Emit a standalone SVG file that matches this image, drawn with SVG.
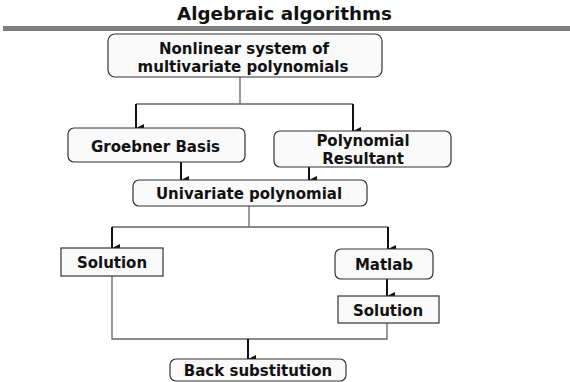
<svg xmlns="http://www.w3.org/2000/svg" width="570" height="382" viewBox="0 0 570 382">
  <defs>
    <marker id="ah" viewBox="0 0 8 8" refX="4" refY="8" markerWidth="8" markerHeight="8" markerUnits="userSpaceOnUse" orient="auto-start-reverse">
      <path d="M0,0 L4,8 L8,0 Z" fill="#111"/>
    </marker>
    <style>
      .box { fill: #fafafa; stroke: #333; stroke-width: 1.2; }
      .lbl { font-family: "DejaVu Sans", Verdana, sans-serif; font-weight: bold; font-size: 15px; fill: #111; text-anchor: middle; }
      .title { font-family: "DejaVu Sans", Verdana, sans-serif; font-weight: bold; font-size: 18.3px; fill: #111; text-anchor: middle; }
      .wire { fill: none; stroke: #666; stroke-width: 1.3; }
      .arrow { fill: none; stroke: #111; stroke-width: 2; }
    </style>
  </defs>
  <rect width="570" height="382" fill="#ffffff"/>

  <!-- heading -->
  <text class="title" x="284.5" y="20">Algebraic algorithms</text>
  <rect x="3" y="26" width="567" height="5" fill="#7f7f7f"/>

  <!-- connectors -->
  <g id="connectors">
    <path class="wire" d="M240,77 V104 M136,104 H353"/>
    <path class="arrow" d="M136,104 V128" marker-end="url(#ah)"/>
    <path class="arrow" d="M353,104 V131" marker-end="url(#ah)"/>
    <path class="arrow" d="M181,162 V180" marker-end="url(#ah)"/>
    <path class="arrow" d="M309,167 V180" marker-end="url(#ah)"/>
    <path class="wire" d="M249,206 V227 M112,227 H388"/>
    <path class="arrow" d="M112,227 V248" marker-end="url(#ah)"/>
    <path class="arrow" d="M388,227 V249" marker-end="url(#ah)"/>
    <path class="arrow" d="M387,279 V296" marker-end="url(#ah)"/>
    <path class="wire" d="M112,276 V339 H387 V323"/>
    <path class="arrow" d="M248,339 V359" marker-end="url(#ah)"/>
  </g>

  <g id="nonlinear-system">
    <rect class="box" x="108" y="34" width="274" height="43" rx="7"/>
    <text class="lbl" x="244" y="54">Nonlinear system of</text>
    <text class="lbl" x="243" y="72">multivariate polynomials</text>
  </g>

  <g id="groebner-basis">
    <rect class="box" x="68" y="128" width="177" height="34" rx="6"/>
    <text class="lbl" x="155.5" y="152">Groebner Basis</text>
  </g>

  <g id="polynomial-resultant">
    <rect class="box" x="274" y="131" width="177" height="36" rx="6"/>
    <text class="lbl" x="363" y="146">Polynomial</text>
    <text class="lbl" x="363" y="164">Resultant</text>
  </g>

  <g id="univariate-polynomial">
    <rect class="box" x="133" y="180" width="234" height="26" rx="6"/>
    <text class="lbl" x="249" y="199">Univariate polynomial</text>
  </g>

  <g id="solution-left">
    <rect class="box" x="61" y="248" width="102" height="28"/>
    <text class="lbl" x="112" y="268">Solution</text>
  </g>

  <g id="matlab">
    <rect class="box" x="335" y="249" width="98" height="30" rx="6"/>
    <text class="lbl" x="384" y="270">Matlab</text>
  </g>

  <g id="solution-right">
    <rect class="box" x="338" y="296" width="101" height="27"/>
    <text class="lbl" x="388" y="316">Solution</text>
  </g>

  <g id="back-substitution">
    <rect class="box" x="170" y="359" width="176" height="22" rx="6"/>
    <text class="lbl" x="258" y="376">Back substitution</text>
  </g>
</svg>
